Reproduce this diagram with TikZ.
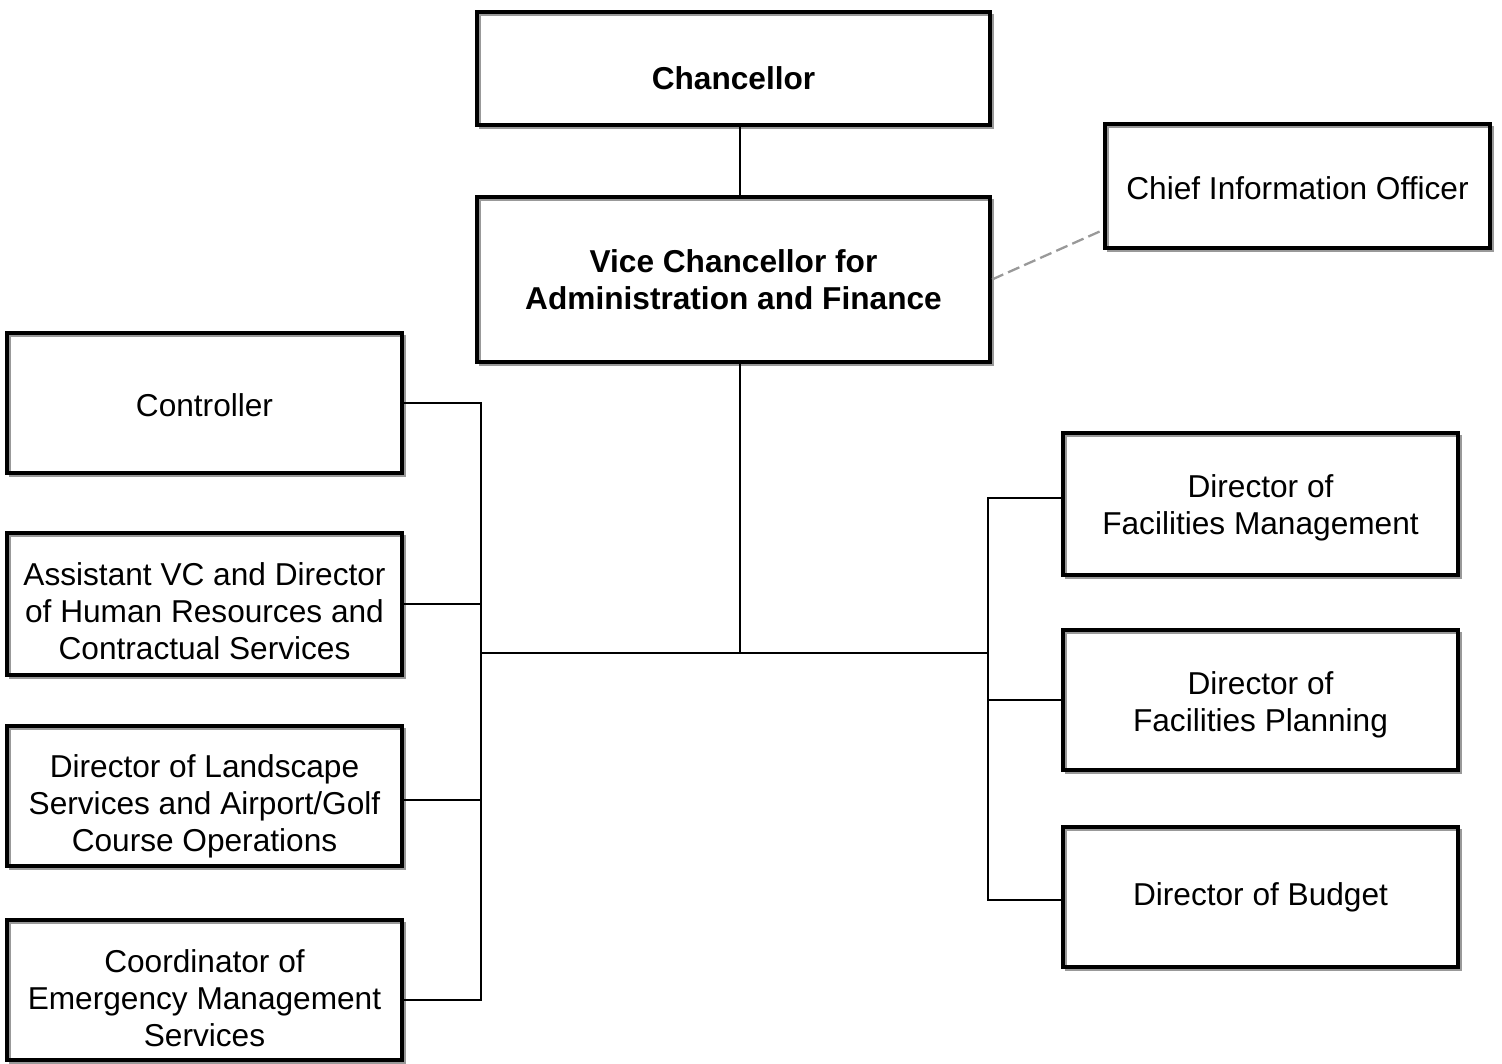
\documentclass[tikz,border=0pt]{standalone}
\usepackage{fontspec}
\setmainfont{Liberation Sans}
\usetikzlibrary{positioning, shadows}

\begin{document}
\begin{tikzpicture}[
    on grid,
    node distance=3.9cm,
    post/.style={draw=black, line width=2.3pt, align=center, inner sep=0pt,
        minimum width=7.9cm, minimum height=2.8cm,
        font=\fontsize{18}{21}\selectfont,
        general shadow={draw=gray!80, fill=none, line width=1.2pt,
            shadow xshift=0.06cm, shadow yshift=-0.06cm}},
    head/.style={post, minimum width=10.26cm, font=\fontsize{18}{21}\selectfont\bfseries},
    link/.style={line width=1.1pt, black},
    dashlink/.style={line width=1.3pt, gray!80, dashed, dash pattern=on 7pt off 3pt}
]
   \useasboundingbox (0,0) rectangle (30.04,-21.28);

   % Top of the tree
   \node[head, minimum height=2.26cm] (chan) at (14.67,-1.37) {\rule{0pt}{24.5pt}Chancellor};
   \node[head, minimum height=3.3cm] (vc) [below=4.22 of chan] {Vice Chancellor for\\Administration and Finance};
   \node[post, minimum width=7.7cm, minimum height=2.48cm] (cio) [above right=1.87 and 11.28 of vc] {\rule{0pt}{15pt}Chief Information Officer};

   % Left column
   \node[post] (ctrl) [below left=2.47 and 10.58 of vc] {\rule{0pt}{15pt}Controller};
   \node[post, minimum height=2.84cm] (avc) [below=4.02 of ctrl] {\rule{0pt}{21pt}Assistant VC and Director\\of Human Resources and\\Contractual Services};
   \node[post] (land) [below=3.84 of avc] {\rule{0pt}{24.5pt}Director of Landscape\\Services and Airport/Golf\\Course Operations};
   \node[post] (coord) [below=3.88 of land] {\rule{0pt}{22pt}Coordinator of\\Emergency Management\\Services};

   % Right column
   \node[post, minimum height=2.84cm] (dfm) [below right=4.49 and 10.54 of vc] {\rule{0pt}{17.6pt}Director of\\Facilities Management};
   \node[post] (dfp) [below=3.92 of dfm] {\rule{0pt}{18.7pt}Director of\\Facilities Planning};
   \node[post] (bud) [below=3.94 of dfp] {Director of Budget};

   % Junctions
   \coordinate[below=5.78 of vc.south, xshift=0.13cm] (jn);
   \coordinate (lbus) at (9.62,0);
   \coordinate (rbus) at (19.76,0);

   % Links
   \draw[link] ([xshift=0.13cm]chan.south) -- ([xshift=0.13cm]vc.north);
   \draw[link] (vc.south -| jn) -- (jn);
   \draw[link] (lbus |- jn) -- (rbus |- jn);
   \draw[link] (ctrl.east) -- (ctrl.east -| lbus) -- ([yshift=-0.2cm]coord.east -| lbus) -- ([yshift=-0.2cm]coord.east);
   \draw[link] (avc.east) -- (avc.east -| lbus);
   \draw[link] ([yshift=-0.08cm]land.east) -- ([yshift=-0.08cm]land.east -| lbus);
   \draw[link] ([yshift=0.12cm]dfm.west) -- ([yshift=0.12cm]dfm.west -| rbus) -- ([yshift=-0.06cm]bud.west -| rbus) -- ([yshift=-0.06cm]bud.west);
   \draw[link] (dfp.west) -- (dfp.west -| rbus);
   \draw[dashlink] (vc.east) -- ([yshift=0.4cm]cio.south west);

\end{tikzpicture}
\end{document}
